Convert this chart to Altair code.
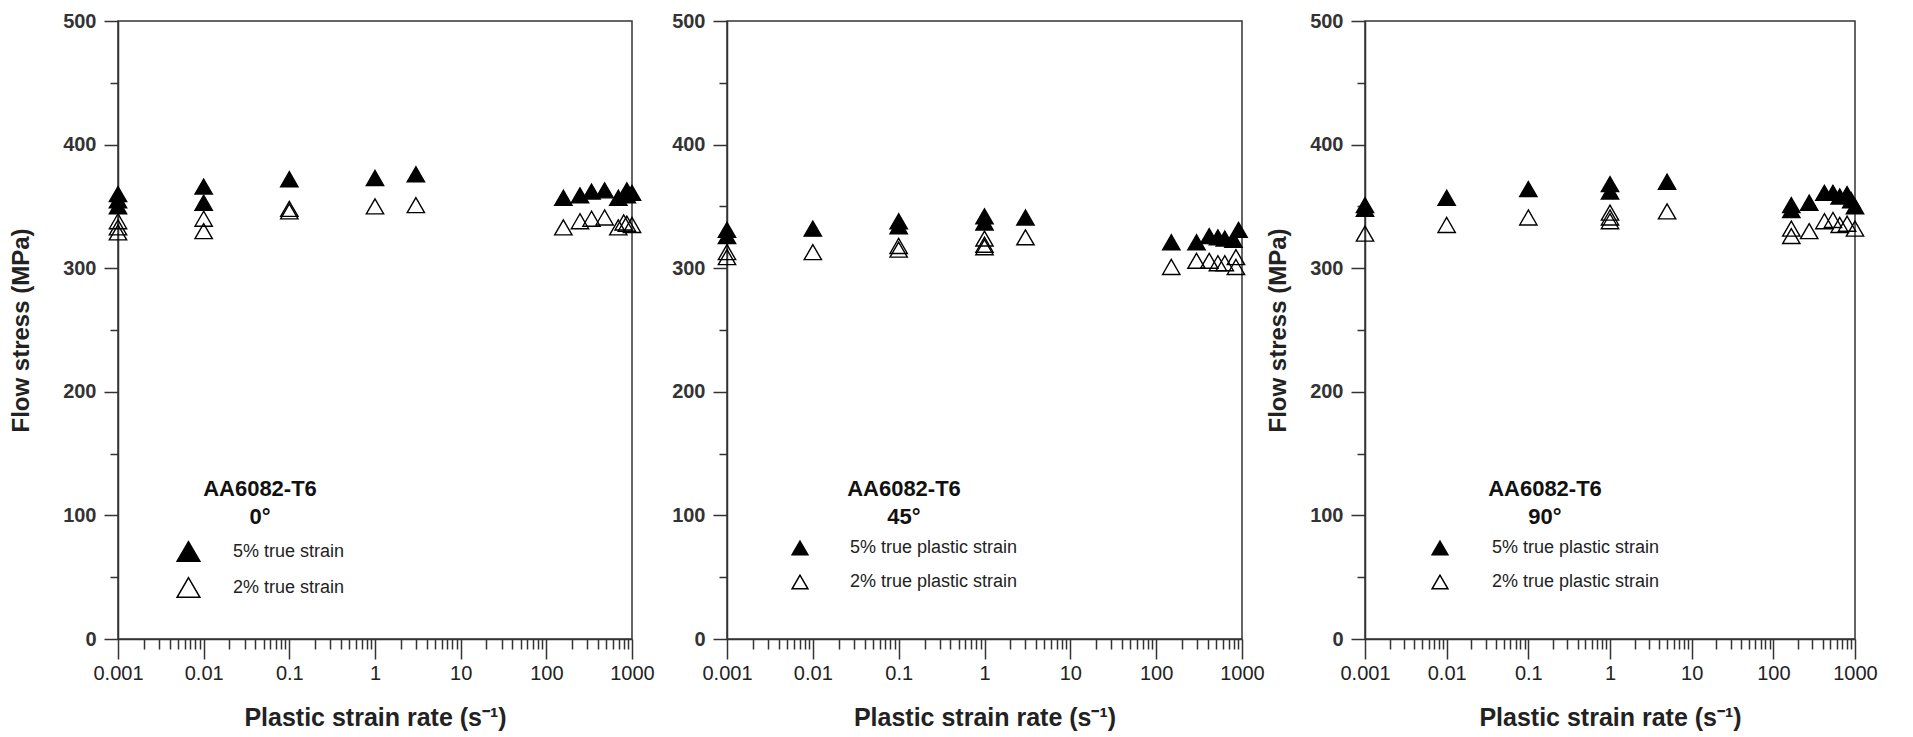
import altair as alt
import pandas as pd

# ---------------- axis ticks ----------------
X_TICKS = [0.001, 0.01, 0.1, 1, 10, 100, 1000]
X_MINOR = [m * d for d in [0.001, 0.01, 0.1, 1, 10, 100] for m in range(2, 10)]
Y_TICKS = [0, 100, 200, 300, 400, 500]
Y_MINOR = [50, 150, 250, 350, 450]

# ---------------- panel 1 : 0 deg ----------------
P1_RATE_5 = [0.001, 0.001, 0.001, 0.01, 0.01, 0.1, 1, 3, 158, 247, 337, 479, 692, 871, 871, 1000]
P1_STRESS_5 = [360, 355, 350, 366, 353, 372, 373, 376, 357, 359, 362, 363, 357, 363, 359, 361]
P1_RATE_2 = [0.001, 0.001, 0.001, 0.01, 0.01, 0.1, 0.1, 1, 3, 158, 247, 337, 479, 692, 800, 871, 1000]
P1_STRESS_2 = [338, 333, 329, 340, 330, 348, 346, 350, 351, 333, 338, 340, 341, 333, 337, 336, 335]

# ---------------- panel 2 : 45 deg ----------------
P2_RATE_5 = [0.001, 0.001, 0.01, 0.1, 0.1, 1, 1, 3, 150, 295, 415, 524, 630, 795, 912]
P2_STRESS_5 = [331, 326, 332, 338, 334, 342, 337, 341, 321, 321, 326, 325, 324, 323, 331]
P2_RATE_2 = [0.001, 0.001, 0.01, 0.1, 0.1, 1, 1, 1, 3, 150, 295, 415, 524, 630, 850, 850]
P2_STRESS_2 = [313, 309, 313, 318, 315, 324, 319, 317, 325, 301, 306, 306, 304, 304, 309, 301]

# ---------------- panel 3 : 90 deg ----------------
P3_RATE_5 = [0.001, 0.001, 0.01, 0.1, 1, 1, 5, 166, 166, 275, 422, 537, 650, 800, 900, 1000]
P3_STRESS_5 = [351, 348, 357, 364, 368, 362, 370, 351, 347, 353, 361, 361, 358, 360, 355, 350]
P3_RATE_2 = [0.001, 0.01, 0.1, 1, 1, 1, 5, 166, 166, 275, 422, 537, 650, 800, 1000]
P3_STRESS_2 = [328, 335, 341, 345, 341, 338, 346, 332, 326, 330, 338, 339, 335, 336, 332]

LABELS_P1 = ["5% true strain", "2% true strain"]
LABELS_P23 = ["5% true plastic strain", "2% true plastic strain"]
MATERIAL = "AA6082-T6"
ANGLES = ["0°", "45°", "90°"]

FONT = "Liberation Sans, Arial, sans-serif"
NARROW = "Liberation Sans Narrow, Arial Narrow, Liberation Sans, sans-serif"
INK = "#222222"
PLOT_H = 618


def make_df(r5, s5, r2, s2, labels):
    return pd.DataFrame({
        "rate": r2 + r5,
        "stress": s2 + s5,
        "series": [labels[1]] * len(r2) + [labels[0]] * len(r5),
    })


def panel(df, labels, angle, width, ytitle, ytitle_pad, legend_x, sym_size, label_offset, row_pad):
    x_scale = alt.Scale(type="log", domain=[0.001, 1000], nice=False)
    y_scale = alt.Scale(domain=[0, 500], nice=False, zero=False)
    main = alt.Chart(df).mark_point(
        shape="triangle-up", filled=True, size=300, stroke="black", strokeWidth=1.4, opacity=1
    ).encode(
        x=alt.X("rate:Q", scale=x_scale, axis=alt.Axis(
            values=X_TICKS, format="~g", orient="bottom", tickSize=20, labelPadding=4,
            labelFont=NARROW, labelFontSize=20, labelColor=INK,
            title="Plastic strain rate (s⁻¹)", titleFont=FONT, titleFontSize=25,
            titleFontWeight="bold", titleColor=INK, titlePadding=22)),
        y=alt.Y("stress:Q", scale=y_scale, axis=alt.Axis(
            values=Y_TICKS, orient="left", tickSize=14, labelPadding=8,
            labelFont=NARROW, labelFontSize=20, labelFontWeight="bold", labelColor="#333333",
            title=ytitle, titleFont=FONT, titleFontSize=24, titleFontWeight="bold",
            titleColor=INK, titlePadding=ytitle_pad)),
        fill=alt.Fill("series:N", scale=alt.Scale(domain=labels, range=["black", "transparent"]),
                      legend=alt.Legend(
                          title=[MATERIAL, angle], orient="none", legendX=legend_x, legendY=458,
                          direction="vertical", symbolType="triangle-up", symbolSize=sym_size,
                          symbolStrokeColor="black", symbolStrokeWidth=1.5,
                          labelFont=FONT, labelFontSize=18, labelColor=INK, labelOffset=label_offset,
                          labelLimit=400, titleLimit=400,
                          titleFont=FONT, titleFontSize=22, titleFontWeight="bold", titleColor="#111111",
                          titleAnchor="middle", titleAlign="center", titleLineHeight=28,
                          titlePadding=10, rowPadding=row_pad)),
    )
    minor = alt.Chart(df).mark_point(opacity=0).encode(
        x=alt.X("rate:Q", scale=x_scale, axis=alt.Axis(
            values=X_MINOR, orient="bottom", labels=False, domain=False, tickSize=10, title="")),
        y=alt.Y("stress:Q", scale=y_scale, axis=alt.Axis(
            values=Y_MINOR, orient="left", labels=False, domain=False, tickSize=8, title="")),
    )
    return alt.layer(main, minor).resolve_axis(x="independent", y="independent").properties(
        width=width, height=PLOT_H)


df1 = make_df(P1_RATE_5, P1_STRESS_5, P1_RATE_2, P1_STRESS_2, LABELS_P1)
df2 = make_df(P2_RATE_5, P2_STRESS_5, P2_RATE_2, P2_STRESS_2, LABELS_P23)
df3 = make_df(P3_RATE_5, P3_STRESS_5, P3_RATE_2, P3_STRESS_2, LABELS_P23)

p1 = panel(df1, LABELS_P1, ANGLES[0], 514, "Flow stress (MPa)", 29, 58, 520, 32, 9)
p2 = panel(df2, LABELS_P23, ANGLES[1], 515, "", 0, 64, 250, 41, 14)
p3 = panel(df3, LABELS_P23, ANGLES[2], 490, "Flow stress (MPa)", 19, 66, 250, 43, 14)

left = alt.hconcat(p1, p2, spacing=15).resolve_scale(fill="independent")
chart = alt.hconcat(left, p3, spacing=0).resolve_scale(fill="independent").configure_view(
    stroke="#333333", strokeWidth=1.5
).configure_axis(
    domainColor="#333333", tickColor="#333333", domainWidth=1.5, tickWidth=1.5,
    grid=False, labelFlush=False, labelOverlap=False
).properties(
    padding={"left": 0, "top": 2, "right": 5, "bottom": 0}, background="white"
)

chart.save("out.html", embed_options={"renderer": "svg", "actions": False})
